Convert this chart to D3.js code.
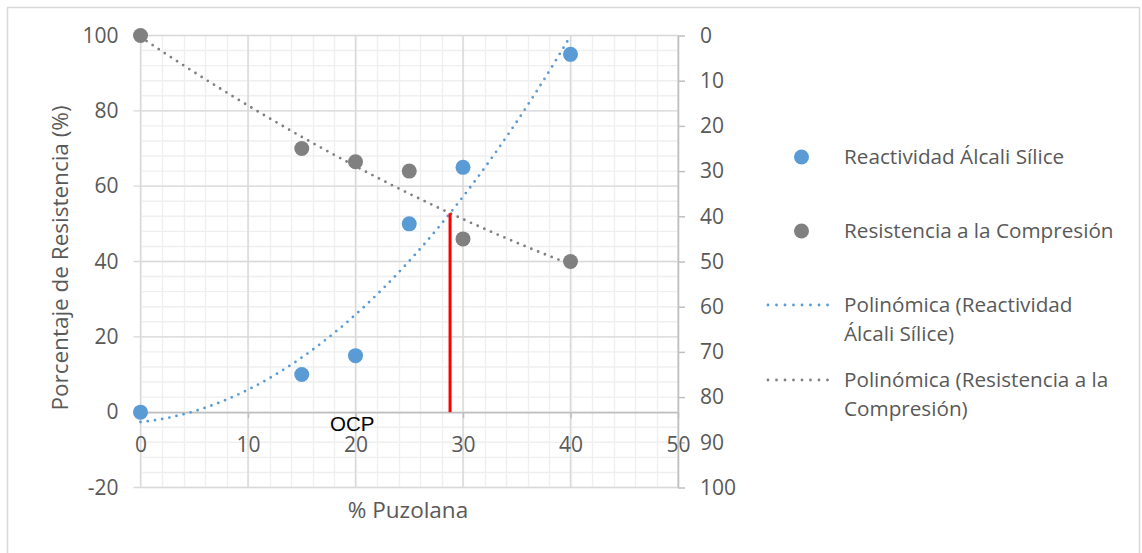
<!DOCTYPE html>
<html>
<head>
<meta charset="utf-8">
<script src="https://cdn.jsdelivr.net/npm/d3@7"></script>
<style>
  html, body { margin: 0; padding: 0; background: #fff; }
  svg { display: block; }
  text { font-family: "Open Sans", "Noto Sans", sans-serif; fill: #595959; }
</style>
</head>
<body>
<svg id="chart" width="1142" height="553"></svg>
<script>
// Measured data: % pozzolan vs. alkali-silica reactivity and compressive strength
const puzolana = [0, 15, 20, 25, 30, 40];
const reactividad = [0, 10, 15, 50, 65, 95];
const resistencia = [100, 70, 66.5, 64, 46, 40];

const xTicks = [0, 10, 20, 30, 40, 50];
const leftTicks = [-20, 0, 20, 40, 60, 80, 100];
const rightTicks = [0, 10, 20, 30, 40, 50, 60, 70, 80, 90, 100];

const seriesNames = ["Reactividad Álcali Sílice", "Resistencia a la Compresión"];
const trendNames = [["Polinómica (Reactividad", "Álcali Sílice)"],
                    ["Polinómica (Resistencia a la", "Compresión)"]];
const colors = ["#5b9bd5", "#808080"];

const svg = d3.select("#chart");
const W = 1142, H = 553;
const fmt = d => String(d);   // plain hyphen for negatives

const x = d3.scaleLinear().domain([0, 50]).range([140.5, 678]);
const yL = d3.scaleLinear().domain([-20, 100]).range([487.5, 35.5]);
const yR = d3.scaleLinear().domain([0, 100]).range([35.5, 487.5]);

// chart frame
svg.append("rect").attr("x", 0).attr("y", 0).attr("width", W).attr("height", H).attr("fill", "#fff");
svg.append("rect").attr("x", 7.5).attr("y", 7.5).attr("width", 1132).attr("height", 620)
  .attr("fill", "none").attr("stroke", "#d9d9d9").attr("stroke-width", 1.5);

// minor gridlines
const g = svg.append("g");
g.selectAll(".mx").data(d3.range(0, 51, 2)).join("line")
  .attr("x1", d => Math.round(x(d)) + 0.5).attr("x2", d => Math.round(x(d)) + 0.5)
  .attr("y1", yL(100)).attr("y2", yL(-20)).attr("stroke", "#efefef").attr("stroke-width", 1.4);
g.selectAll(".my").data(d3.range(-20, 101, 4)).join("line")
  .attr("y1", d => yL(d)).attr("y2", d => yL(d))
  .attr("x1", x(0)).attr("x2", x(50)).attr("stroke", "#efefef").attr("stroke-width", 1.4);
// major gridlines
g.selectAll(".Mx").data(xTicks).join("line")
  .attr("x1", d => x(d)).attr("x2", d => x(d))
  .attr("y1", yL(100)).attr("y2", yL(-20)).attr("stroke", "#d9d9d9").attr("stroke-width", 1.4);
g.selectAll(".My").data(leftTicks).join("line")
  .attr("y1", d => yL(d)).attr("y2", d => yL(d))
  .attr("x1", x(0) - 7).attr("x2", x(50)).attr("stroke", "#d9d9d9").attr("stroke-width", 1.4);

const tickFont = sel => sel.selectAll("text").style("font-size", "21px").attr("fill", "#595959")
  .style("font-family", '"Open Sans", sans-serif');

// left axis labels
const axisL = svg.append("g").attr("transform", `translate(${x(0)},0)`)
  .call(d3.axisLeft(yL).tickValues(leftTicks).tickFormat(fmt).tickSize(0).tickPadding(22));
axisL.select(".domain").remove();
tickFont(axisL);

// right axis (reversed)
const axisR = svg.append("g").attr("transform", `translate(${x(50)},0)`)
  .call(d3.axisRight(yR).tickValues(rightTicks).tickFormat(fmt).tickSize(7).tickPadding(15).tickSizeOuter(0));
axisR.select(".domain").attr("stroke", "#bfbfbf").attr("stroke-width", 1.5);
axisR.selectAll(".tick line").attr("stroke", "#bfbfbf").attr("stroke-width", 1.5);
tickFont(axisR);

// horizontal axis crossing at zero
const axisX = svg.append("g").attr("transform", `translate(0,${yL(0)})`)
  .call(d3.axisBottom(x).tickValues(xTicks).tickFormat(fmt).tickSize(6).tickPadding(19).tickSizeOuter(0));
axisX.select(".domain").attr("stroke", "#bfbfbf").attr("stroke-width", 1.5);
axisX.selectAll(".tick line").attr("stroke", "#bfbfbf").attr("stroke-width", 1.5);
tickFont(axisX);

// axis titles
svg.append("text").attr("x", 408).attr("y", 518).attr("text-anchor", "middle")
  .style("font-size", "22.5px").text("% Puzolana");
svg.append("text").attr("transform", "translate(68,258) rotate(-90)").attr("text-anchor", "middle")
  .style("font-size", "22.5px").text("Porcentaje de Resistencia (%)");

// second-order least-squares fit, as used for the polynomial trendlines
function polyFit2(xs, ys) {
  const S = k => d3.sum(xs, v => Math.pow(v, k));
  const T = k => d3.sum(xs, (v, i) => Math.pow(v, k) * ys[i]);
  const M = [[S(0), S(1), S(2), T(0)], [S(1), S(2), S(3), T(1)], [S(2), S(3), S(4), T(2)]];
  for (let i = 0; i < 3; i++) {
    for (let r = i + 1; r < 3; r++) {
      const f = M[r][i] / M[i][i];
      for (let c = i; c < 4; c++) M[r][c] -= f * M[i][c];
    }
  }
  const coef = [0, 0, 0];
  for (let i = 2; i >= 0; i--) {
    let s = M[i][3];
    for (let c = i + 1; c < 3; c++) s -= M[i][c] * coef[c];
    coef[i] = s / M[i][i];
  }
  return v => coef[0] + coef[1] * v + coef[2] * v * v;
}
const fits = [polyFit2(puzolana, reactividad), polyFit2(puzolana, resistencia)];

const xs = d3.range(0, 40.001, 0.25);
const line = f => d3.line().x(d => x(d)).y(d => yL(f(d)))(xs);
fits.forEach((f, i) => {
  svg.append("path").attr("d", line(f)).attr("fill", "none")
    .attr("stroke", colors[i]).attr("stroke-width", 2.8)
    .attr("stroke-linecap", "round").attr("stroke-dasharray", "0 7.3");
});

// optimum content: crossing point of the two trendlines
let lo = 15, hi = 40;
for (let k = 0; k < 60; k++) {
  const mid = (lo + hi) / 2;
  if ((fits[0](mid) - fits[1](mid)) * (fits[0](lo) - fits[1](lo)) <= 0) hi = mid; else lo = mid;
}
const ocp = (lo + hi) / 2;
svg.append("line").attr("x1", x(ocp)).attr("x2", x(ocp))
  .attr("y1", yL(fits[1](ocp))).attr("y2", yL(0))
  .attr("stroke", "#ff0000").attr("stroke-width", 3);

// data markers
[reactividad, resistencia].forEach((vals, i) => {
  svg.append("g").selectAll("circle").data(vals).join("circle")
    .attr("cx", (d, j) => x(puzolana[j])).attr("cy", d => yL(d))
    .attr("r", 7.5).attr("fill", colors[i]);
});

svg.append("text").attr("x", 330).attr("y", 431)
  .style("font-family", '"Liberation Sans", Arial, sans-serif').style("font-size", "20.5px")
  .style("fill", "#000").text("OCP");

// legend
const leg = svg.append("g");
const rowsY = [157, 231];
seriesNames.forEach((n, i) => {
  leg.append("circle").attr("cx", 801.5).attr("cy", rowsY[i]).attr("r", 7.5).attr("fill", colors[i]);
  leg.append("text").attr("x", 844).attr("y", rowsY[i]).attr("dy", "0.35em")
    .style("font-size", "20.7px").text(n);
});
const trendY = [305, 380];
trendNames.forEach((lines, i) => {
  leg.append("line").attr("x1", 768).attr("x2", 836).attr("y1", trendY[i]).attr("y2", trendY[i])
    .attr("stroke", colors[i]).attr("stroke-width", 2.8)
    .attr("stroke-linecap", "round").attr("stroke-dasharray", "0 8.5");
  lines.forEach((t, k) => {
    leg.append("text").attr("x", 844).attr("y", trendY[i] + k * 28.5).attr("dy", "0.35em")
      .style("font-size", "20.7px").text(t);
  });
});
</script>
</body>
</html>
